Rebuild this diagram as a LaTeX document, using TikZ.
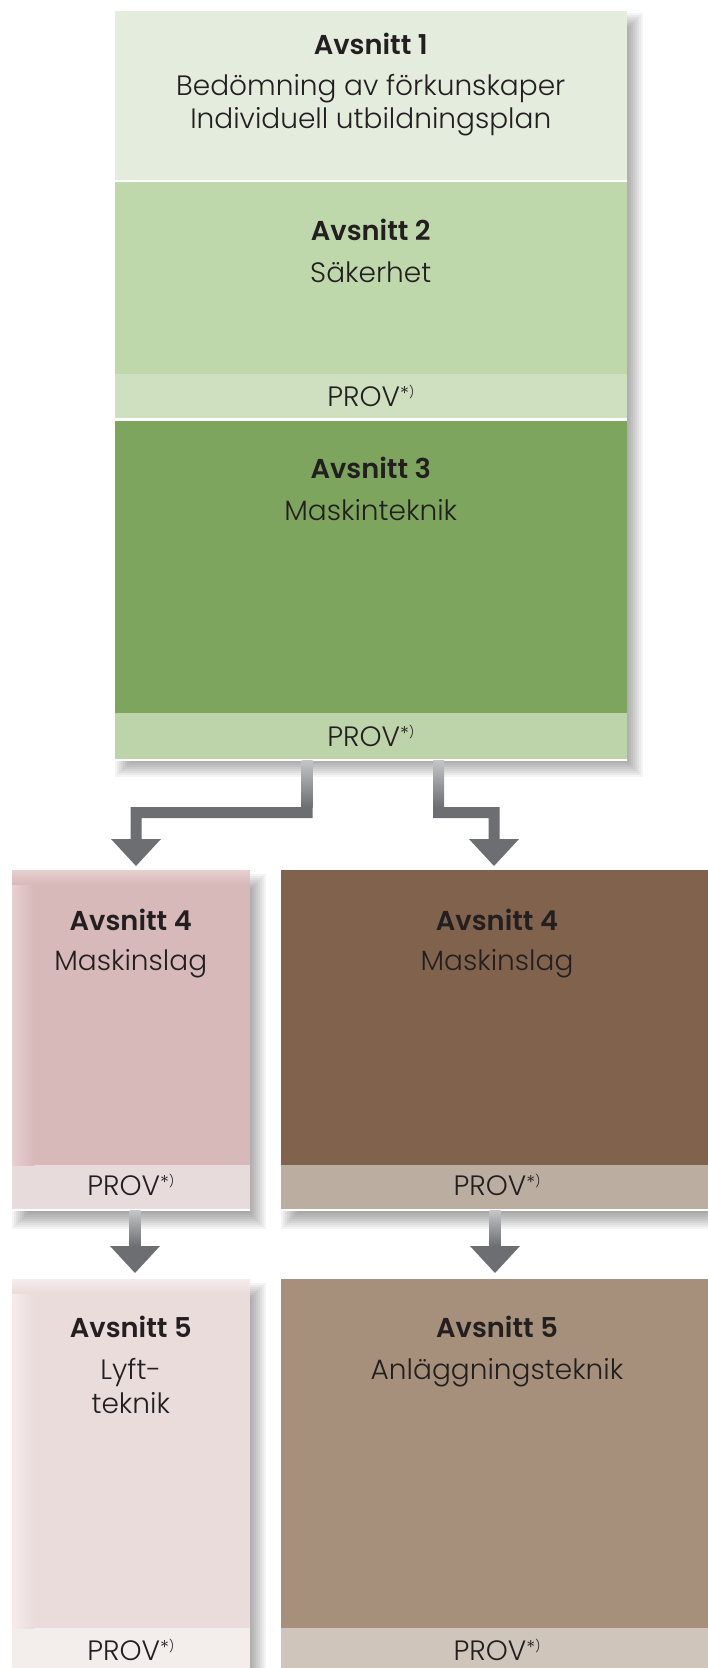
\documentclass[tikz,border=0pt]{standalone}
\usepackage{fontspec}
\setmainfont{Poppins}[UprightFont={* Light},BoldFont={* SemiBold}]
\usetikzlibrary{calc}
\definecolor{txt}{HTML}{231F20}
\definecolor{cA}{HTML}{E4ECDE}
\definecolor{cB}{HTML}{BFD8AB}
\definecolor{cBp}{HTML}{CEE0C0}
\definecolor{cC}{HTML}{7EA55D}
\definecolor{cCp}{HTML}{BDD4AB}
\definecolor{cDL}{HTML}{D8B9BA}
\definecolor{cDLp}{HTML}{E8DBDB}
\definecolor{cDLhi}{HTML}{E8CFD0}
\definecolor{cDR}{HTML}{81634D}
\definecolor{cDRp}{HTML}{BCADA1}
\definecolor{cEL}{HTML}{EADCDB}
\definecolor{cELp}{HTML}{F3EDEB}
\definecolor{cELhi}{HTML}{F6ECEC}
\definecolor{cER}{HTML}{A6907C}
\definecolor{cERp}{HTML}{D0C5BA}
\definecolor{arrowc}{HTML}{6D6E71}
\definecolor{stemtop}{HTML}{C4C5C7}
\tikzset{
  box/.style={inner sep=0pt, outer sep=0pt, anchor=north west, draw=none},
  ttl/.style={anchor=base, inner sep=0pt, text=txt, font=\fontsize{27.3}{32}\selectfont\bfseries},
  sub/.style={anchor=base, inner sep=0pt, text=txt, font=\fontsize{28}{33}\selectfont},
  arrowfill/.style={fill=arrowc, draw=none},
  stemshade/.style={top color=stemtop, bottom color=arrowc, draw=none},
  gap/.style={fill=white, draw=none},
}
\newcommand\rbox[6]{\node[box, fill=#2, minimum width={#5-#3}, minimum height={#6-#4}] (#1) at (#3,#4) {};}
\newcommand\softshadow[6]{%
  \foreach \k in {0,2,...,16}{%
    \fill[black,opacity=0.045] ({#1+#5+8-\k},{#2+#6+8-\k}) rectangle ({#3+#5-8+\k},{#4+#6-8+\k});}}
\newcommand\provtxt{PROV\raisebox{6pt}{\fontsize{19}{19}\selectfont *}\raisebox{10pt}{\fontsize{12}{12}\selectfont )}}
\begin{document}
\begin{tikzpicture}[x=1pt,y=-1pt]
\useasboundingbox (0,0) rectangle (707,1668);
\fill[white] (0,0) rectangle (707,1668);
% shadows
\softshadow{114.5}{11}{627}{759}{8}{10}
\softshadow{12}{870}{249.5}{1209}{8}{12}
\softshadow{281}{870}{713}{1209}{8}{12}
\softshadow{12}{1279}{249.5}{1668}{8}{12}
% top column
\rbox{b1}{cA}{114.5}{11}{627}{180}
\rbox{b2}{cB}{114.5}{182}{627}{374}
\rbox{b2p}{cBp}{114.5}{374}{627}{418}
\rbox{b3}{cC}{114.5}{420.5}{627}{713}
\rbox{b3p}{cCp}{114.5}{713}{627}{759}
\fill[gap] (b1.south west) rectangle (b2.north east);
\fill[gap] (b2p.south west) rectangle (b3.north east);
\fill[gap] (b3p.south west) rectangle ($(b3p.south east)+(0,1.5)$);
% lower boxes
\rbox{b4L}{cDL}{12}{870}{249.5}{1165}
\rbox{b4Lp}{cDLp}{12}{1165}{249.5}{1209}
\rbox{b4R}{cDR}{281}{870}{713}{1165}
\rbox{b4Rp}{cDRp}{281}{1165}{713}{1209}
\rbox{b5L}{cEL}{12}{1279}{249.5}{1628}
\rbox{b5Lp}{cELp}{12}{1628}{249.5}{1668}
\rbox{b5R}{cER}{281}{1279}{713}{1628}
\rbox{b5Rp}{cERp}{281}{1628}{713}{1668}
\fill[gap] (b4Lp.south west) rectangle ($(b4Lp.south east)+(0,1.5)$);
\fill[gap] (b4Rp.south west) rectangle ($(b4Rp.south east)+(0,1.5)$);
% light inner edges of the pink boxes
\shade[left color=cDLhi, right color=cDL] (b4L.north west) rectangle ($(b4L.south west)+(22,0)$);
\shade[top color=cDLhi, bottom color=cDL] (b4L.north west) rectangle ($(b4L.north east)+(0,14)$);
\shade[left color=cELhi, right color=cEL] (b5L.north west) rectangle ($(b5L.south west)+(22,0)$);
\shade[top color=cELhi, bottom color=cEL] (b5L.north west) rectangle ($(b5L.north east)+(0,14)$);
% texts
\node[ttl] (t1) at (370.75,54) {Avsnitt 1};
\node[sub] (s1a) at (370.75,95) {Bedömning av förkunskaper};
\node[sub] (s1b) at (370.75,128.5) {Individuell utbildningsplan};
\node[ttl] (t2) at (370.75,240) {Avsnitt 2};
\node[sub] (s2) at (370.75,282.5) {Säkerhet};
\node[sub] (p2) at (370.75,406) {\provtxt};
\node[ttl] (t3) at (370.75,478.5) {Avsnitt 3};
\node[sub] (s3) at (370.75,520) {Maskinteknik};
\node[sub] (p3) at (370.75,746) {\provtxt};
\node[ttl] (t4L) at (130.75,930) {Avsnitt 4};
\node[sub] (s4L) at (130.75,970) {Maskinslag};
\node[sub] (p4L) at (130.75,1195) {\provtxt};
\node[ttl] (t4R) at (497,930) {Avsnitt 4};
\node[sub] (s4R) at (497,970) {Maskinslag};
\node[sub] (p4R) at (497,1195) {\provtxt};
\node[ttl] (t5L) at (130.75,1337) {Avsnitt 5};
\node[sub] (s5La) at (130.75,1379) {Lyft-};
\node[sub] (s5Lb) at (130.75,1413) {teknik};
\node[ttl] (t5R) at (497,1337) {Avsnitt 5};
\node[sub] (s5R) at (497,1379) {Anläggningsteknik};
\node[sub] (p5L) at (130.75,1660) {\provtxt};
\node[sub] (p5R) at (497,1660) {\provtxt};
% connectors: box 3 -> box 4 (left)
\coordinate (aLs) at (b3p.south -| 307,0);
\coordinate (aLt) at (136,866);
\shade[stemshade] ($(aLs)+(-5.5,1.5)$) rectangle ($(aLs)+(5.5,48)$);
\fill[arrowfill] ($(aLs)+(-5.5,48)$) -- ($(aLs)+(5.5,48)$) -- ($(aLs)+(5.5,59)$)
  -- ($(aLt)+(5.5,-48)$) -- ($(aLt)+(5.5,-27)$) -- ($(aLt)+(25,-27)$) -- (aLt)
  -- ($(aLt)+(-25,-27)$) -- ($(aLt)+(-5.5,-27)$) -- ($(aLt)+(-5.5,-59)$) -- cycle;
% box 3 -> box 4 (right)
\coordinate (aRs) at (b3p.south -| 438.5,0);
\coordinate (aRt) at (494,866);
\shade[stemshade] ($(aRs)+(-5.5,1.5)$) rectangle ($(aRs)+(5.5,48)$);
\fill[arrowfill] ($(aRs)+(-5.5,48)$) -- ($(aRt)+(5.5,-59)$) -- ($(aRt)+(5.5,-27)$)
  -- ($(aRt)+(25,-27)$) -- (aRt) -- ($(aRt)+(-25,-27)$) -- ($(aRt)+(-5.5,-27)$)
  -- ($(aRt)+(-5.5,-48)$) -- ($(aRs)+(-5.5,59)$) -- cycle;
% box 4 -> box 5 (left)
\coordinate (bLs) at (b4Lp.south -| 135,0);
\coordinate (bLt) at (135,1273);
\shade[stemshade] ($(bLs)+(-5.5,1.5)$) rectangle ($(bLt)+(5.5,-27)$);
\fill[arrowfill] ($(bLt)+(-25,-27)$) -- ($(bLt)+(25,-27)$) -- (bLt) -- cycle;
% box 4 -> box 5 (right)
\coordinate (bRs) at (b4Rp.south -| 495,0);
\coordinate (bRt) at (495,1273);
\shade[stemshade] ($(bRs)+(-5.5,1.5)$) rectangle ($(bRt)+(5.5,-27)$);
\fill[arrowfill] ($(bRt)+(-25,-27)$) -- ($(bRt)+(25,-27)$) -- (bRt) -- cycle;
\end{tikzpicture}
\end{document}
